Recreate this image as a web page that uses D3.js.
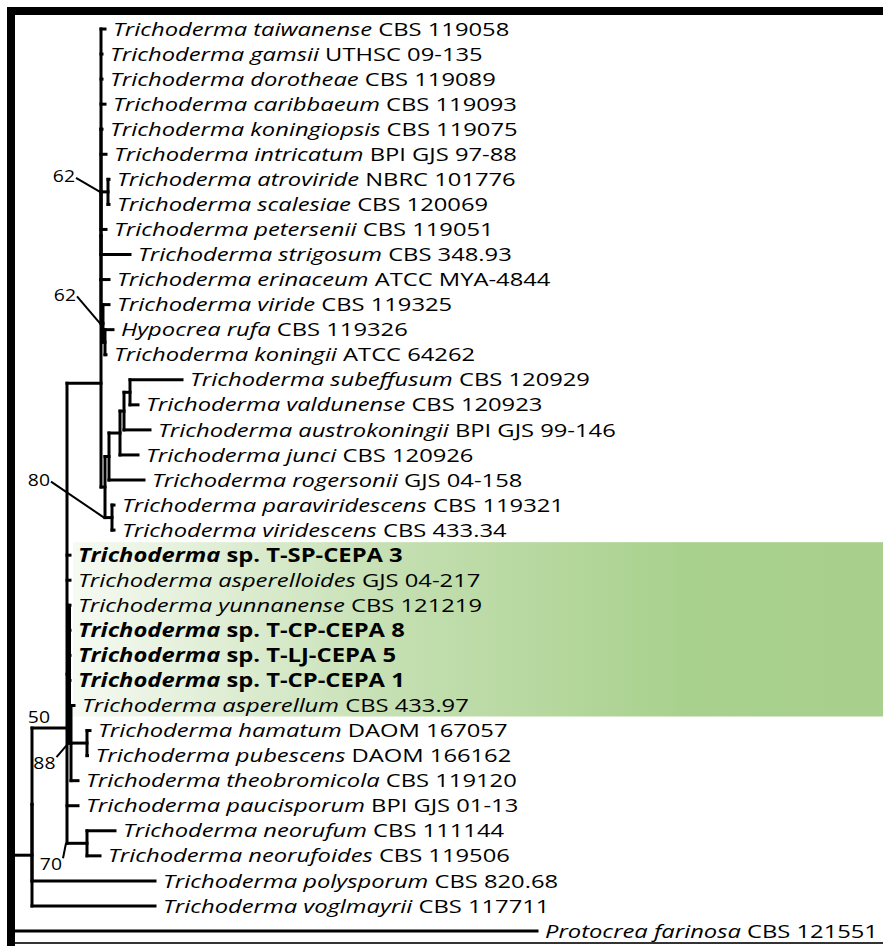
<!DOCTYPE html>
<html>
<head>
<meta charset="utf-8">
<script src="https://cdn.jsdelivr.net/npm/d3@7"></script>
<style>
body { margin: 0; background: #fff; }
svg { display: block; }
</style>
</head>
<body>
<div id="container"></div>
<script>
// tips, top to bottom
const tips = [
    { id: 'taiwanense', genus: 'Trichoderma', epithet: 'taiwanense', strain: 'CBS 119058' },
    { id: 'gamsii', genus: 'Trichoderma', epithet: 'gamsii', strain: 'UTHSC 09-135' },
    { id: 'dorotheae', genus: 'Trichoderma', epithet: 'dorotheae', strain: 'CBS 119089' },
    { id: 'caribbaeum', genus: 'Trichoderma', epithet: 'caribbaeum', strain: 'CBS 119093' },
    { id: 'koningiopsis', genus: 'Trichoderma', epithet: 'koningiopsis', strain: 'CBS 119075' },
    { id: 'intricatum', genus: 'Trichoderma', epithet: 'intricatum', strain: 'BPI GJS 97-88' },
    { id: 'atroviride', genus: 'Trichoderma', epithet: 'atroviride', strain: 'NBRC 101776' },
    { id: 'scalesiae', genus: 'Trichoderma', epithet: 'scalesiae', strain: 'CBS 120069' },
    { id: 'petersenii', genus: 'Trichoderma', epithet: 'petersenii', strain: 'CBS 119051' },
    { id: 'strigosum', genus: 'Trichoderma', epithet: 'strigosum', strain: 'CBS 348.93' },
    { id: 'erinaceum', genus: 'Trichoderma', epithet: 'erinaceum', strain: 'ATCC MYA-4844' },
    { id: 'viride', genus: 'Trichoderma', epithet: 'viride', strain: 'CBS 119325' },
    { id: 'rufa', genus: 'Hypocrea', epithet: 'rufa', strain: 'CBS 119326' },
    { id: 'koningii', genus: 'Trichoderma', epithet: 'koningii', strain: 'ATCC 64262' },
    { id: 'subeffusum', genus: 'Trichoderma', epithet: 'subeffusum', strain: 'CBS 120929' },
    { id: 'valdunense', genus: 'Trichoderma', epithet: 'valdunense', strain: 'CBS 120923' },
    { id: 'austrokoningii', genus: 'Trichoderma', epithet: 'austrokoningii', strain: 'BPI GJS 99-146' },
    { id: 'junci', genus: 'Trichoderma', epithet: 'junci', strain: 'CBS 120926' },
    { id: 'rogersonii', genus: 'Trichoderma', epithet: 'rogersonii', strain: 'GJS 04-158' },
    { id: 'paraviridescens', genus: 'Trichoderma', epithet: 'paraviridescens', strain: 'CBS 119321' },
    { id: 'viridescens', genus: 'Trichoderma', epithet: 'viridescens', strain: 'CBS 433.34' },
    { id: 'TSP3', genus: 'Trichoderma', epithet: null, strain: 'sp. T-SP-CEPA 3' },
    { id: 'asperelloides', genus: 'Trichoderma', epithet: 'asperelloides', strain: 'GJS 04-217' },
    { id: 'yunnanense', genus: 'Trichoderma', epithet: 'yunnanense', strain: 'CBS 121219' },
    { id: 'TCP8', genus: 'Trichoderma', epithet: null, strain: 'sp. T-CP-CEPA 8' },
    { id: 'TLJ5', genus: 'Trichoderma', epithet: null, strain: 'sp. T-LJ-CEPA 5' },
    { id: 'TCP1', genus: 'Trichoderma', epithet: null, strain: 'sp. T-CP-CEPA 1' },
    { id: 'asperellum', genus: 'Trichoderma', epithet: 'asperellum', strain: 'CBS 433.97' },
    { id: 'hamatum', genus: 'Trichoderma', epithet: 'hamatum', strain: 'DAOM 167057' },
    { id: 'pubescens', genus: 'Trichoderma', epithet: 'pubescens', strain: 'DAOM 166162' },
    { id: 'theobromicola', genus: 'Trichoderma', epithet: 'theobromicola', strain: 'CBS 119120' },
    { id: 'paucisporum', genus: 'Trichoderma', epithet: 'paucisporum', strain: 'BPI GJS 01-13' },
    { id: 'neorufum', genus: 'Trichoderma', epithet: 'neorufum', strain: 'CBS 111144' },
    { id: 'neorufoides', genus: 'Trichoderma', epithet: 'neorufoides', strain: 'CBS 119506' },
    { id: 'polysporum', genus: 'Trichoderma', epithet: 'polysporum', strain: 'CBS 820.68' },
    { id: 'voglmayrii', genus: 'Trichoderma', epithet: 'voglmayrii', strain: 'CBS 117711' },
    { id: 'farinosa', genus: 'Protocrea', epithet: 'farinosa', strain: 'CBS 121551' }
];

// [node, parent, branch length]
const branches = [
    ['R', '', 0],
    ['A', 'R', 0.017], ['farinosa', 'R', 0.522],
    ['A1', 'A', 0], ['voglmayrii', 'A', 0.123],
    ['N50', 'A1', 0.035], ['polysporum', 'A1', 0.123],
    ['U', 'N50', 0.034], ['TSP3', 'N50', 0.003], ['asperelloides', 'N50', 0.003],
    ['NG', 'N50', 0.0025], ['paucisporum', 'N50', 0.011], ['NR', 'N50', 0.020],
    ['yunnanense', 'NG', 0.0005], ['TCP8', 'NG', 0.0005], ['TLJ5', 'NG', 0.0005], ['TCP1', 'NG', 0.0005],
    ['N88', 'NG', 0.0015],
    ['asperellum', 'N88', 0.003], ['HP', 'N88', 0.016], ['theobromicola', 'N88', 0.007],
    ['hamatum', 'HP', 0.003], ['pubescens', 'HP', 0.0005],
    ['neorufum', 'NR', 0.028], ['neorufoides', 'NR', 0.013],
    ['Uc', 'U', 0], ['W', 'U', 0.004],
    ['Ub', 'Uc', 0], ['V62', 'Uc', 0.002],
    ['Ua', 'Ub', 0], ['erinaceum', 'Ub', 0.008],
    ['Ua0', 'Ua', 0], ['strigosum', 'Ua', 0.029],
    ['taiwanense', 'Ua0', 0.004], ['gamsii', 'Ua0', 0.001], ['dorotheae', 'Ua0', 0.001],
    ['caribbaeum', 'Ua0', 0.004], ['koningiopsis', 'Ua0', 0.001], ['intricatum', 'Ua0', 0.005],
    ['N62a', 'Ua0', 0.007], ['petersenii', 'Ua0', 0.005],
    ['atroviride', 'N62a', 0.001], ['scalesiae', 'N62a', 0.001],
    ['viride', 'V62', 0.006], ['VH', 'V62', 0.002],
    ['rufa', 'VH', 0.008], ['koningii', 'VH', 0.001],
    ['S1', 'W', 0.004], ['PV', 'W', 0.007],
    ['S3', 'S1', 0.011], ['rogersonii', 'S1', 0.035],
    ['S4', 'S3', 0.004], ['junci', 'S3', 0.018],
    ['SV', 'S4', 0.006], ['austrokoningii', 'S4', 0.026],
    ['subeffusum', 'SV', 0.052], ['valdunense', 'SV', 0.008],
    ['paraviridescens', 'PV', 0.002], ['viridescens', 'PV', 0.002]
];

// node drawn off its children's midpoint (row units)
const placedNodes = [['N50', 27.9]];

// bootstrap values
const supports = [['N62a', '62'], ['V62', '62'], ['PV', '80'], ['N50', '50'], ['N88', '88'], ['NR', '70']];

// rows of the highlighted group
const highlightRows = ['TSP3', 'asperellum'];

const width = 883, height = 946;
const font = '"Open Sans", "DejaVu Sans", sans-serif';
// the figure's lettering is stretched sideways
const stretch = 1.25;

// label placement for bootstrap values [dx, dy, leader]
const supportPlace = {
    N62a: [-25, -15, true],
    V62: [-24, -28, true],
    PV: [-54, -37, true],
    N50: [19, -10, false],
    N88: [-13, 20, true],
    NR: [-4, 21, true]
};

const svg = d3.select('#container')
    .append('svg')
    .attr('width', width)
    .attr('height', height);

const defs = svg.append('defs');
const grad = defs.append('linearGradient')
    .attr('id', 'hlGrad')
    .attr('x1', '0%').attr('x2', '100%')
    .attr('y1', '0%').attr('y2', '0%');
grad.append('stop').attr('offset', '0%').attr('stop-color', '#f6faf2');
grad.append('stop').attr('offset', '40%').attr('stop-color', '#c4dfb1');
grad.append('stop').attr('offset', '75%').attr('stop-color', '#a9d18e');
grad.append('stop').attr('offset', '100%').attr('stop-color', '#a8d08c');

const root = d3.stratify()
    .id(d => d[0])
    .parentId(d => d[1] || null)(branches);

const rowOf = new Map(tips.map((t, i) => [t.id, i]));
const placed = new Map(placedNodes);

const xScale = d3.scaleLinear()
    .domain([0, 0.532])
    .range([15, 547]);
const yScale = d3.scaleLinear()
    .domain([0, tips.length - 1])
    .range([29, 931]);

root.eachBefore(n => {
    n.depthLen = (n.parent ? n.parent.depthLen : 0) + n.data[2];
    n.x = xScale(n.depthLen);
});
root.eachAfter(n => {
    if (!n.children) {
        n.y = yScale(rowOf.get(n.id));
    } else if (placed.has(n.id)) {
        n.y = yScale(placed.get(n.id));
    } else {
        const ys = n.children.map(c => c.y);
        n.y = (d3.min(ys) + d3.max(ys)) / 2;
    }
});

// highlight box
const hlTop = yScale(rowOf.get(highlightRows[0])) - 13;
const hlBottom = yScale(rowOf.get(highlightRows[1])) + 11;
svg.append('rect')
    .attr('x', 73)
    .attr('y', hlTop)
    .attr('width', width - 73)
    .attr('height', hlBottom - hlTop)
    .attr('fill', 'url(#hlGrad)');

// frame
svg.append('rect').attr('x', 7).attr('y', 7).attr('width', width - 7).attr('height', 8).attr('fill', '#000');
svg.append('rect').attr('x', 7).attr('y', 7).attr('width', 8).attr('height', height - 7).attr('fill', '#000');
svg.append('line')
    .attr('x1', 15).attr('x2', width)
    .attr('y1', 943).attr('y2', 943)
    .attr('stroke', '#333')
    .attr('stroke-width', 2);

const tree = svg.append('g')
    .attr('stroke', '#000')
    .attr('stroke-width', 3)
    .attr('stroke-linecap', 'square')
    .attr('fill', 'none');

// horizontal branches
tree.selectAll('.h')
    .data(root.descendants().filter(n => n.parent))
    .join('line')
    .attr('x1', n => n.parent.x)
    .attr('x2', n => n.x)
    .attr('y1', n => n.y)
    .attr('y2', n => n.y);

// vertical connectors
tree.selectAll('.v')
    .data(root.descendants().filter(n => n.children && n.parent))
    .join('line')
    .attr('x1', n => n.x)
    .attr('x2', n => n.x)
    .attr('y1', n => d3.min(n.children, c => c.y))
    .attr('y2', n => d3.max(n.children, c => c.y));

// tip labels
const leaves = root.leaves();
const labels = svg.append('g')
    .style('font-family', font)
    .style('font-size', '19px')
    .attr('fill', '#000');
leaves.forEach(n => {
    const t = tips[rowOf.get(n.id)];
    const bold = t.epithet === null;
    const txt = labels.append('text')
        .attr('transform', `translate(${n.x + 8},${n.y}) scale(${stretch},1)`)
        .attr('dy', '0.35em')
        .style('font-weight', bold ? 700 : 400);
    txt.append('tspan')
        .style('font-style', 'italic')
        .text(bold ? t.genus : `${t.genus} ${t.epithet}`);
    txt.append('tspan')
        .text(' ' + t.strain);
});

// bootstrap values
const nodeById = new Map(root.descendants().map(n => [n.id, n]));
const sup = svg.append('g')
    .style('font-family', font)
    .style('font-size', '15.5px');
supports.forEach(([id, val]) => {
    const n = nodeById.get(id);
    const [dx, dy, leader] = supportPlace[id];
    const ex = n.parent.x - 1, ey = n.y;
    sup.append('text')
        .attr('transform', `translate(${ex + dx},${ey + dy}) scale(${stretch},1)`)
        .attr('dy', '0.35em')
        .attr('text-anchor', 'end')
        .text(val);
    if (leader) {
        sup.append('line')
            .attr('x1', ex + dx + 1)
            .attr('y1', ey + dy + (dy > 0 ? -6 : 1))
            .attr('x2', ex)
            .attr('y2', ey)
            .attr('stroke', '#000')
            .attr('stroke-width', 2);
    }
});
</script>
</body>
</html>
